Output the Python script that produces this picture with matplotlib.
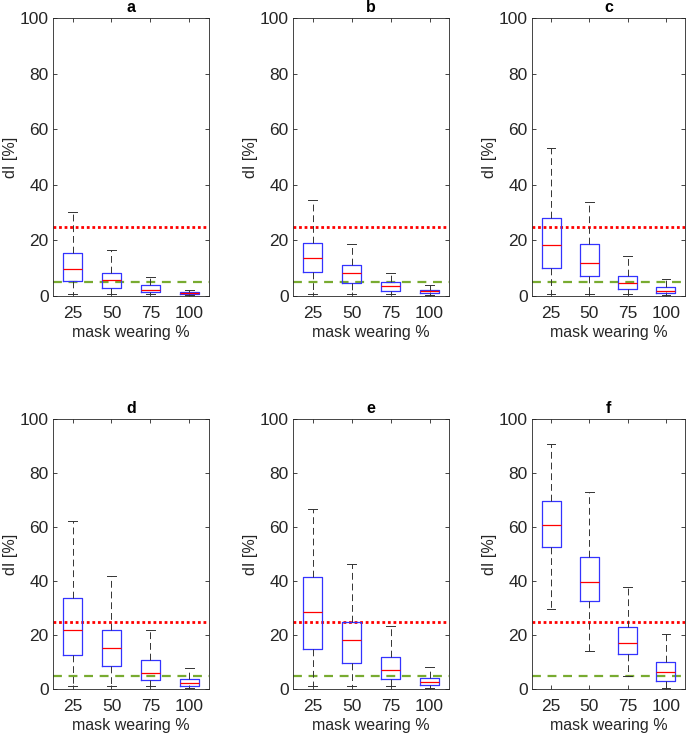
import matplotlib
matplotlib.use("Agg")
import matplotlib.pyplot as plt

plt.rcParams['font.family'] = ['Liberation Sans', 'DejaVu Sans']

mask_levels = ['25', '50', '75', '100']
panel_names = ['a', 'b', 'c', 'd', 'e', 'f']

# box stats per panel, one value per mask level: lower whisker, Q1, median, Q3, upper whisker
whislo = {
    'a': [0.6, 0.6, 0.6, 0.5],
    'b': [0.6, 0.6, 0.6, 0.4],
    'c': [0.8, 0.8, 0.8, 0.5],
    'd': [1.0, 1.0, 1.0, 0.4],
    'e': [1.0, 1.0, 1.0, 0.2],
    'f': [29.7, 13.9, 4.7, 0.2],
}
q1 = {
    'a': [5.5, 2.9, 1.4, 0.8],
    'b': [8.7, 4.8, 1.9, 1.0],
    'c': [10.2, 7.1, 2.6, 1.1],
    'd': [12.5, 8.4, 3.2, 1.2],
    'e': [14.8, 9.7, 3.7, 1.5],
    'f': [52.5, 32.6, 12.8, 3.1],
}
med = {
    'a': [9.6, 5.9, 2.2, 1.2],
    'b': [13.8, 8.4, 3.5, 1.7],
    'c': [18.3, 11.9, 4.6, 1.8],
    'd': [21.9, 15.2, 6.0, 2.2],
    'e': [28.4, 18.0, 7.2, 2.6],
    'f': [60.7, 39.6, 17.2, 6.3],
}
q3 = {
    'a': [15.6, 8.4, 4.1, 1.6],
    'b': [19.2, 11.3, 5.0, 2.3],
    'c': [27.9, 18.7, 7.3, 3.1],
    'd': [33.8, 21.8, 10.7, 3.7],
    'e': [41.4, 25.0, 11.7, 4.2],
    'f': [69.7, 48.8, 23.1, 10.0],
}
whishi = {
    'a': [30.3, 16.7, 7.0, 2.3],
    'b': [34.7, 18.8, 8.2, 4.0],
    'c': [53.1, 33.9, 14.3, 6.0],
    'd': [62.4, 42.0, 21.7, 7.8],
    'e': [66.6, 46.4, 23.4, 8.3],
    'f': [90.9, 73.1, 37.9, 20.2],
}

upper_threshold = 25
lower_threshold = 5

W, H = 686, 739
fig = plt.figure(figsize=(W / 100, H / 100), dpi=100)

# axes boxes in pixels: left, top, right, bottom
col_lr = [(53, 209), (293, 449), (532, 685)]
row_tb = [(18, 296), (419, 689)]

axis_col = (0.15, 0.15, 0.15)

for i, name in enumerate(panel_names):
    r, c = divmod(i, 3)
    l, rr = col_lr[c]
    t, b = row_tb[r]
    ax = fig.add_axes([l / W, 1 - b / H, (rr - l) / W, (b - t) / H])

    stats = []
    for k, lab in enumerate(mask_levels):
        stats.append(dict(med=med[name][k], q1=q1[name][k], q3=q3[name][k],
                          whislo=whislo[name][k], whishi=whishi[name][k],
                          fliers=[], label=lab))

    ax.axhline(upper_threshold, color='red', lw=2, ls=(0, (1, 1)), zorder=1)
    ax.axhline(lower_threshold, color=(0.47, 0.67, 0.19), lw=1.6, ls=(0, (4, 3)), zorder=1)

    ax.bxp(stats, positions=[1, 2, 3, 4], widths=0.5, showfliers=False,
           boxprops=dict(color=(0.2, 0.2, 1.0), lw=0.9),
           medianprops=dict(color='red', lw=0.9),
           whiskerprops=dict(color=(0.2, 0.2, 0.2), lw=0.7, ls=(0, (7, 4))),
           capprops=dict(color=(0.2, 0.2, 0.2), lw=0.7),
           capwidths=0.22, zorder=3)

    ax.set_xlim(0.5, 4.5)
    ax.set_ylim(0, 100)
    ax.set_yticks([0, 20, 40, 60, 80, 100])
    ax.set_xticks([1, 2, 3, 4])
    ax.set_xticklabels(mask_levels)
    ax.tick_params(direction='in', length=3, width=0.6, top=True, right=True,
                   labelsize=12.5, colors=axis_col)
    ax.tick_params(axis='x', pad=7)
    ax.tick_params(axis='y', pad=3)
    for sp in ax.spines.values():
        sp.set_color(axis_col)
        sp.set_linewidth(0.6)

    ax.set_title(name, fontsize=11.5, fontweight='bold', pad=4)
    ax.set_ylabel('dI [%]', fontsize=11.5, color=axis_col, labelpad=1)
    ax.set_xlabel('mask wearing %', fontsize=11.5, color=axis_col, labelpad=3)

fig.savefig('out.png', dpi=100)
